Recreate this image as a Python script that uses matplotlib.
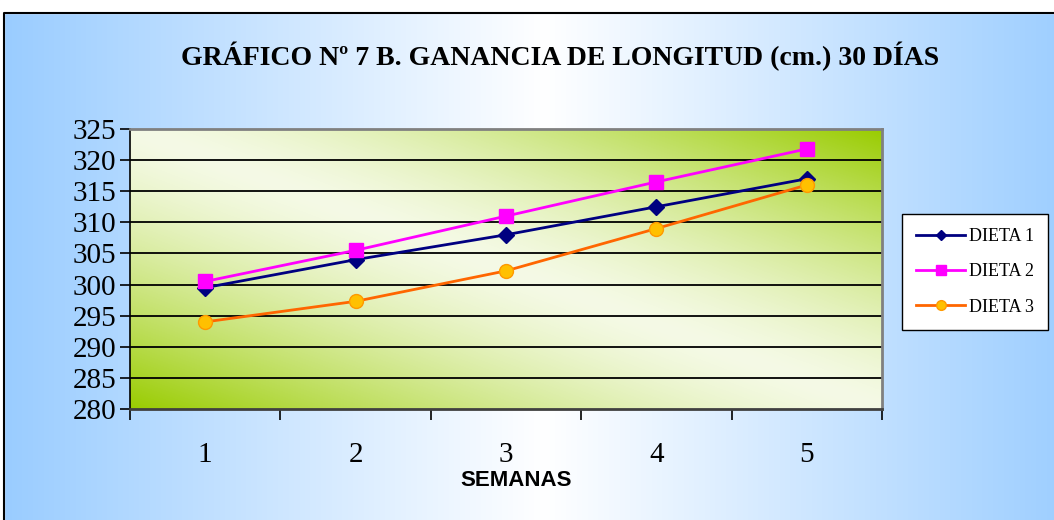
import numpy as np
import matplotlib
matplotlib.use("Agg")
import matplotlib.pyplot as plt
from matplotlib.patches import Rectangle
from matplotlib.colors import to_rgb

semanas = ['1', '2', '3', '4', '5']
dieta1 = [299.5, 304.0, 308.0, 312.5, 317.0]
dieta2 = [300.5, 305.5, 311.0, 316.5, 321.8]
dieta3 = [294.0, 297.3, 302.2, 309.0, 316.0]
series_labels = ['DIETA 1', 'DIETA 2', 'DIETA 3']
yticks = [280, 285, 290, 295, 300, 305, 310, 315, 320, 325]
title = 'GRÁFICO Nº 7 B. GANANCIA DE LONGITUD (cm.) 30 DÍAS'
xlabel = 'SEMANAS'

W, H = 1054, 520
fig = plt.figure(figsize=(W / 100, H / 100), dpi=100)

# ---- figure background (horizontal blue-white-blue gradient)
bg = fig.add_axes([0, 0, 1, 1], zorder=-10)
xs = np.linspace(0, W, 600)
t = np.clip(np.abs(xs - 545) / 545, 0, 1)
blue = np.array(to_rgb('#99CCFF'))
white = np.array([1.0, 1.0, 1.0])
row = white[None, :] * (1 - t[:, None]) + blue[None, :] * t[:, None]
img = np.repeat(row[None, :, :], 2, axis=0)
bg.imshow(img, extent=[0, W, 0, H], aspect='auto', origin='lower')
bg.add_patch(Rectangle((0, H - 13), W, 13, color='white', zorder=2))
bg.add_patch(Rectangle((0, 0), 4, H, color='white', zorder=2))
bg.plot([4, 4, W], [0, H - 13, H - 13], color='black', lw=1.5, zorder=3)
bg.set_xlim(0, W)
bg.set_ylim(0, H)
bg.axis('off')

# ---- main axes
l, r, tp, bt = 130, 882, 129, 409
ax = fig.add_axes([l / W, (H - bt) / H, (r - l) / W, (bt - tp) / H])
x = np.arange(1, len(semanas) + 1)
ax.set_xlim(0.5, len(semanas) + 0.5)
ax.set_ylim(yticks[0], yticks[-1])

# plot area gradient (diagonal)
n = 300
gx, gy = np.meshgrid(np.linspace(0, 1, n), np.linspace(0, 1, n))
tt = np.abs(gx + gy - 1.0)
tt = np.clip(tt, 0, 1) ** 1.4
green = np.array(to_rgb('#99CC00'))
light = np.array(to_rgb('#F5FAE6'))
pa = light[None, None, :] * (1 - tt[..., None]) + green[None, None, :] * tt[..., None]
ax.imshow(pa, extent=[0.5, len(semanas) + 0.5, yticks[0], yticks[-1]],
          aspect='auto', origin='lower', zorder=0)

for yv in yticks[1:-1]:
    ax.axhline(yv, color='black', lw=1.3, zorder=1)

ax.plot(x, dieta1, color='#000080', lw=2, marker='D', ms=8,
        mfc='#000080', mec='#000080', label=series_labels[0], zorder=3)
ax.plot(x, dieta2, color='#FF00FF', lw=2, marker='s', ms=10,
        mfc='#FF00FF', mec='#FF00FF', label=series_labels[1], zorder=3)
ax.plot(x, dieta3, color='#FF6600', lw=2, marker='o', ms=10,
        mfc='#FFC000', mec='#FF9900', label=series_labels[2], zorder=3)

for s in ['top', 'right']:
    ax.spines[s].set_color('#808080')
    ax.spines[s].set_linewidth(2)
ax.spines['left'].set_color('black')
ax.spines['bottom'].set_color('#404040')
ax.spines['left'].set_linewidth(1.2)
ax.spines['bottom'].set_linewidth(2)

serif = 'Liberation Serif'
ax.set_yticks(yticks)
ax.set_yticklabels([str(v) for v in yticks], fontsize=21, family=serif)
ax.tick_params(axis='y', direction='out', length=7, width=1.2, pad=3)
ax.set_xticks(np.arange(0.5, len(semanas) + 1, 1))
ax.set_xticklabels([])
ax.tick_params(axis='x', which='major', direction='out', length=8, width=1.2)
ax.set_xticks(x, minor=True)
ax.set_xticklabels(semanas, minor=True, fontsize=21, family=serif)
ax.tick_params(axis='x', which='minor', length=0, pad=24)

fig.text(560 / W, 1 - 56 / H, title, ha='center', va='center',
         fontsize=20, fontweight='bold', family=serif)
fig.text(516 / W, 1 - 481 / H, xlabel, ha='center', va='center',
         fontsize=16, fontweight='bold', family='Liberation Sans')

leg = fig.legend(loc='upper left', bbox_to_anchor=(902 / W, 1 - 214 / H),
                 borderaxespad=0, frameon=True, fancybox=False,
                 edgecolor='black', facecolor='white', framealpha=1,
                 prop={'family': serif, 'size': 13}, handlelength=2.7,
                 labelspacing=1.0, handletextpad=0.2, borderpad=0.8,
                 markerscale=0.7)
leg.get_frame().set_linewidth(1)

fig.savefig('out.png', dpi=100)
